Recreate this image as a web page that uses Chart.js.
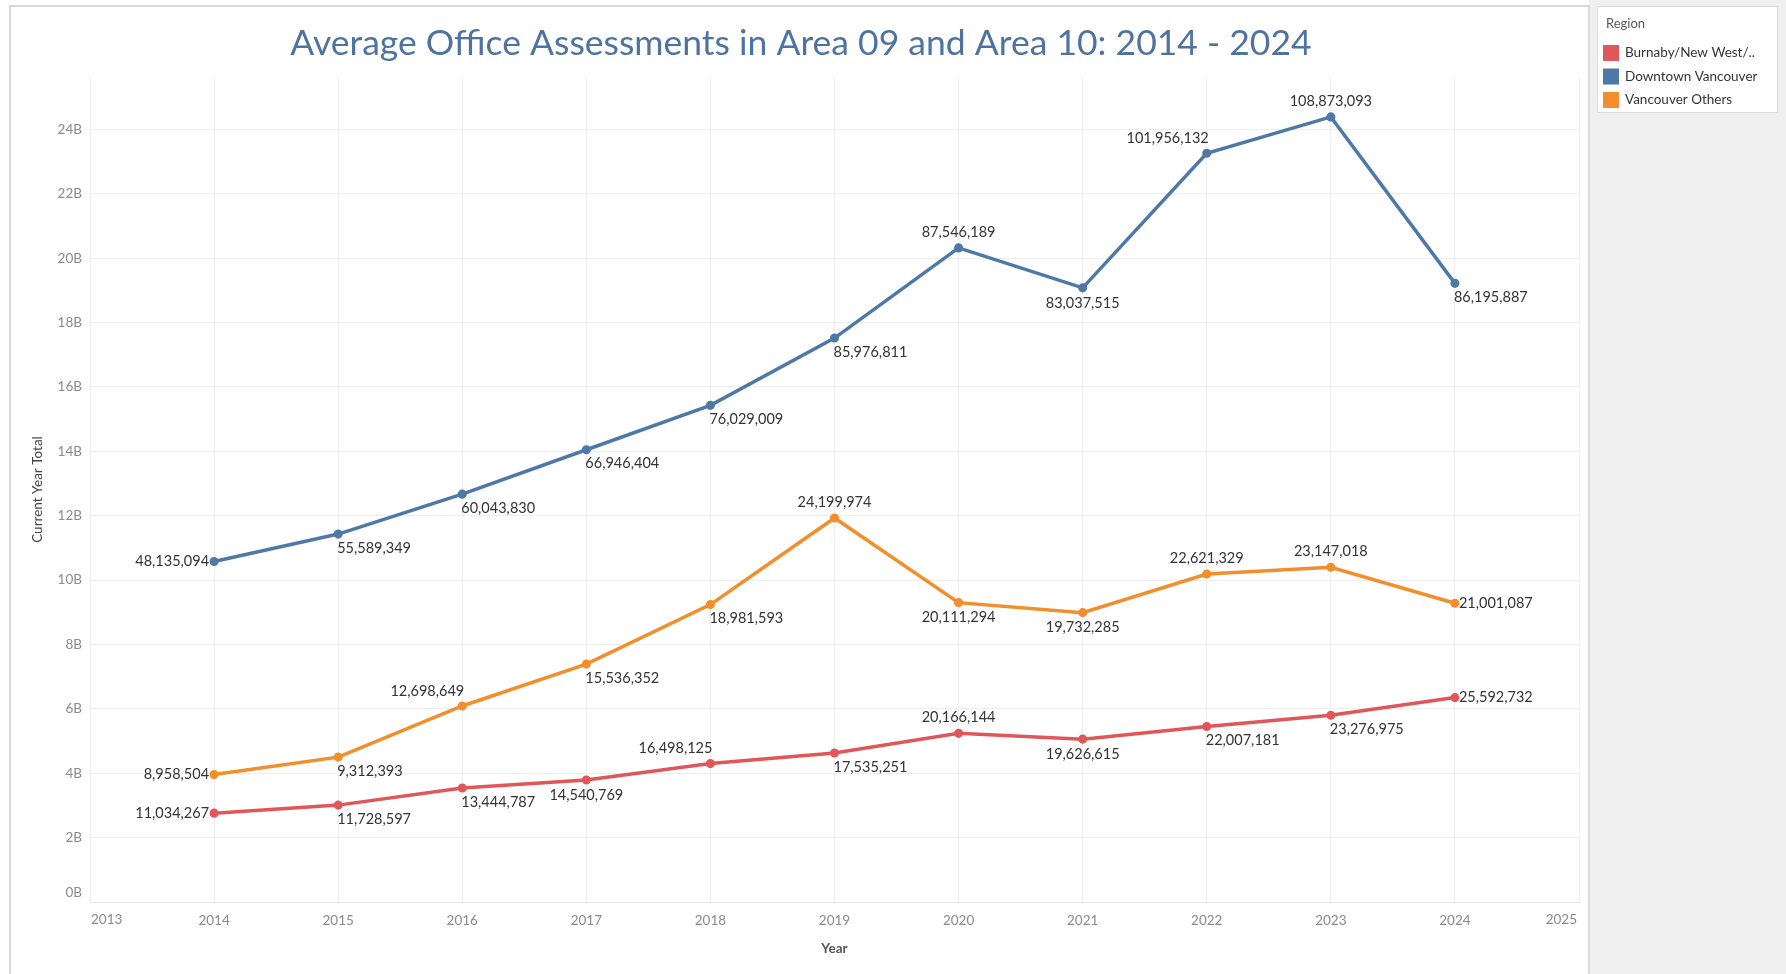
<!DOCTYPE html>
<html>
<head>
<meta charset="utf-8">
<title>Average Office Assessments</title>
<script src="https://cdn.jsdelivr.net/npm/chart.js@4/dist/chart.umd.min.js"></script>
<style>
  html, body { margin: 0; padding: 0; background: #ffffff; }
  #wrap { position: relative; width: 1786px; height: 974px; }
</style>
</head>
<body>
<div id="wrap"><canvas id="myChart" width="1786" height="974"></canvas></div>
<script>
"use strict";

// Years on the x axis
const years = [2014, 2015, 2016, 2017, 2018, 2019, 2020, 2021, 2022, 2023, 2024];

// Current year total (billions) per region
const burnabyTotal = [2.76, 3.01, 3.54, 3.79, 4.30, 4.63, 5.24, 5.06, 5.45, 5.80, 6.35];
const downtownTotal = [10.58, 11.43, 12.67, 14.05, 15.43, 17.52, 20.32, 19.08, 23.26, 24.39, 19.22];
const othersTotal = [3.96, 4.50, 6.09, 7.39, 9.24, 11.93, 9.30, 8.99, 10.19, 10.40, 9.28];

// Average assessment shown as the mark labels
const burnabyAvg = [11034267, 11728597, 13444787, 14540769, 16498125, 17535251, 20166144, 19626615, 22007181, 23276975, 25592732];
const downtownAvg = [48135094, 55589349, 60043830, 66946404, 76029009, 85976811, 87546189, 83037515, 101956132, 108873093, 86195887];
const othersAvg = [8958504, 9312393, 12698649, 15536352, 18981593, 24199974, 20111294, 19732285, 22621329, 23147018, 21001087];

const regionNames = ["Burnaby/New West/..", "Downtown Vancouver", "Vancouver Others"];
const yTicks = [0, 2, 4, 6, 8, 10, 12, 14, 16, 18, 20, 22, 24];

// Where each label sits relative to its point
const burnabyPlace = ["left", "belowRight", "belowRight", "below", "aboveLeft", "belowRight", "above", "below", "belowRight", "belowRight", "right"];
const downtownPlace = ["left", "belowRight", "belowRight", "belowRight", "belowRight", "belowRight", "above", "below", "aboveLeft", "above", "belowRight"];
const othersPlace = ["left", "belowRight", "aboveLeft", "belowRight", "belowRight", "above", "below", "below", "above", "above", "right"];

const colors = ["#e15759", "#4e79a7", "#f28e2b"];
const FONT = "Lato, 'Noto Sans', sans-serif";
const TICK_COLOR = "#8a8a8a";
const TICK_FONT = { family: FONT, size: 13.5 };

function toPoints(values) {
	return years.map(function (year, i) {
		return { x: year, y: values[i] };
	});
}

function makeDataset(i, values, avgs, place) {
	return {
		label: regionNames[i],
		data: toPoints(values),
		avgLabels: avgs,
		labelPlace: place,
		borderColor: colors[i],
		backgroundColor: colors[i],
		borderWidth: 3.5,
		pointRadius: 2.8,
		pointHoverRadius: 2.8,
		tension: 0,
	};
}

// Draws the title, the legend panel and the frame round the view
const decorPlugin = {
	id: "decor",
	beforeDraw(chart) {
		const c = chart.ctx;
		c.save();
		c.fillStyle = "#ffffff";
		c.fillRect(0, 0, chart.width, chart.height);
		// grey side panel
		c.fillStyle = "#f0f0f0";
		c.fillRect(1589, 0, chart.width - 1589, chart.height);
		// frame of the view
		c.strokeStyle = "#d9d9d9";
		c.lineWidth = 2;
		c.strokeRect(10, 6, 1579, chart.height + 10);
		c.restore();
	},
	afterDraw(chart) {
		const c = chart.ctx;
		c.save();
		// title
		c.fillStyle = "#4f73a0";
		c.font = "35.5px " + FONT;
		c.textAlign = "center";
		c.textBaseline = "middle";
		c.fillText("Average Office Assessments in Area 09 and Area 10: 2014 - 2024", 801, 44);

		// end labels of the x axis sit inside the plot, as in Tableau
		const xs = chart.scales.x;
		const ys = chart.scales.y;
		c.fillStyle = TICK_COLOR;
		c.font = TICK_FONT.size + "px " + FONT;
		c.textBaseline = "top";
		c.textAlign = "left";
		c.fillText(String(xs.min), xs.left + 1, xs.top + 11);
		c.textAlign = "right";
		c.fillText(String(xs.max), xs.right - 2, xs.top + 11);
		// the 0B label is nudged up off the axis line
		c.textBaseline = "middle";
		c.fillText("0B", ys.right - 8, ys.getPixelForValue(0) - 9);

		// legend box
		c.fillStyle = "#ffffff";
		c.fillRect(1597, 6, 180, 106);
		c.strokeStyle = "#dcdcdc";
		c.lineWidth = 1;
		c.strokeRect(1597.5, 6.5, 180, 106);
		c.textAlign = "left";
		c.fillStyle = "#555555";
		c.font = "13px " + FONT;
		c.fillText("Region", 1606, 24);
		c.font = "13.5px " + FONT;
		regionNames.forEach(function (name, i) {
			const y = 53 + i * 23.5;
			c.fillStyle = colors[i];
			c.fillRect(1603, y - 8, 16, 16);
			c.fillStyle = "#333333";
			c.fillText(name, 1625, y);
		});
		c.restore();
	},
};

// Draws the average value beside each point
const pointLabelPlugin = {
	id: "pointLabels",
	afterDatasetsDraw(chart) {
		const c = chart.ctx;
		c.save();
		c.font = "14.5px " + FONT;
		c.fillStyle = "#333333";
		chart.data.datasets.forEach(function (ds, di) {
			const meta = chart.getDatasetMeta(di);
			meta.data.forEach(function (pt, i) {
				const text = ds.avgLabels[i].toLocaleString("en-US");
				const place = ds.labelPlace[i];
				let x = pt.x;
				let y = pt.y;
				c.textBaseline = "middle";
				if (place === "left") {
					c.textAlign = "right";
					x -= 5;
				} else if (place === "right") {
					c.textAlign = "left";
					x += 4;
				} else if (place === "above") {
					c.textAlign = "center";
					y -= 16;
				} else if (place === "below") {
					c.textAlign = "center";
					y += 15;
				} else if (place === "belowRight") {
					c.textAlign = "left";
					x -= 1;
					y += 14;
				} else if (place === "aboveLeft") {
					c.textAlign = "right";
					x += 2;
					y -= 15;
				}
				c.fillText(text, x, y);
			});
		});
		c.restore();
	},
};

function generateChart() {
	const ctx = document.getElementById("myChart");

	new Chart(ctx, {
		type: "line",
		data: {
			datasets: [
				makeDataset(0, burnabyTotal, burnabyAvg, burnabyPlace),
				makeDataset(2, othersTotal, othersAvg, othersPlace),
				makeDataset(1, downtownTotal, downtownAvg, downtownPlace),
			],
		},
		options: {
			responsive: false,
			animation: false,
			events: [],
			layout: {
				padding: { left: 0, top: 77, right: 207, bottom: 0 },
			},
			plugins: {
				legend: { display: false },
				title: { display: false },
				tooltip: { enabled: false },
			},
			scales: {
				x: {
					type: "linear",
					min: 2013,
					max: 2025,
					afterFit(scale) {
						scale.height = 72;
					},
					ticks: {
						stepSize: 1,
						autoSkip: false,
						maxRotation: 0,
						padding: 11,
						color: TICK_COLOR,
						font: TICK_FONT,
						callback: function (v) {
							// the two end years are drawn by the decor plugin
							if (v === 2013 || v === 2025) {
								return "";
							}
							return String(v);
						},
					},
					grid: { color: "#eeeeee", drawTicks: false },
					border: { color: "#e6e6e6" },
					title: {
						display: true,
						text: "Year",
						color: "#555555",
						font: { family: FONT, size: 13.5, weight: "bold" },
						padding: { top: 4, bottom: 17 },
					},
				},
				y: {
					min: 0,
					max: 25.63,
					afterFit(scale) {
						scale.width = 90;
					},
					afterBuildTicks(scale) {
						scale.ticks = yTicks.map(function (v) {
							return { value: v };
						});
					},
					ticks: {
						padding: 8,
						color: TICK_COLOR,
						font: TICK_FONT,
						callback: function (v) {
							return v === 0 ? "" : v + "B";
						},
					},
					grid: { color: "#eeeeee", drawTicks: false },
					border: { display: false },
					title: {
						display: true,
						text: "Current Year Total",
						color: "#444444",
						font: { family: FONT, size: 13.5 },
						padding: { top: 30, bottom: 0 },
					},
				},
			},
		},
		plugins: [decorPlugin, pointLabelPlugin],
	});
}

generateChart();
</script>
</body>
</html>
